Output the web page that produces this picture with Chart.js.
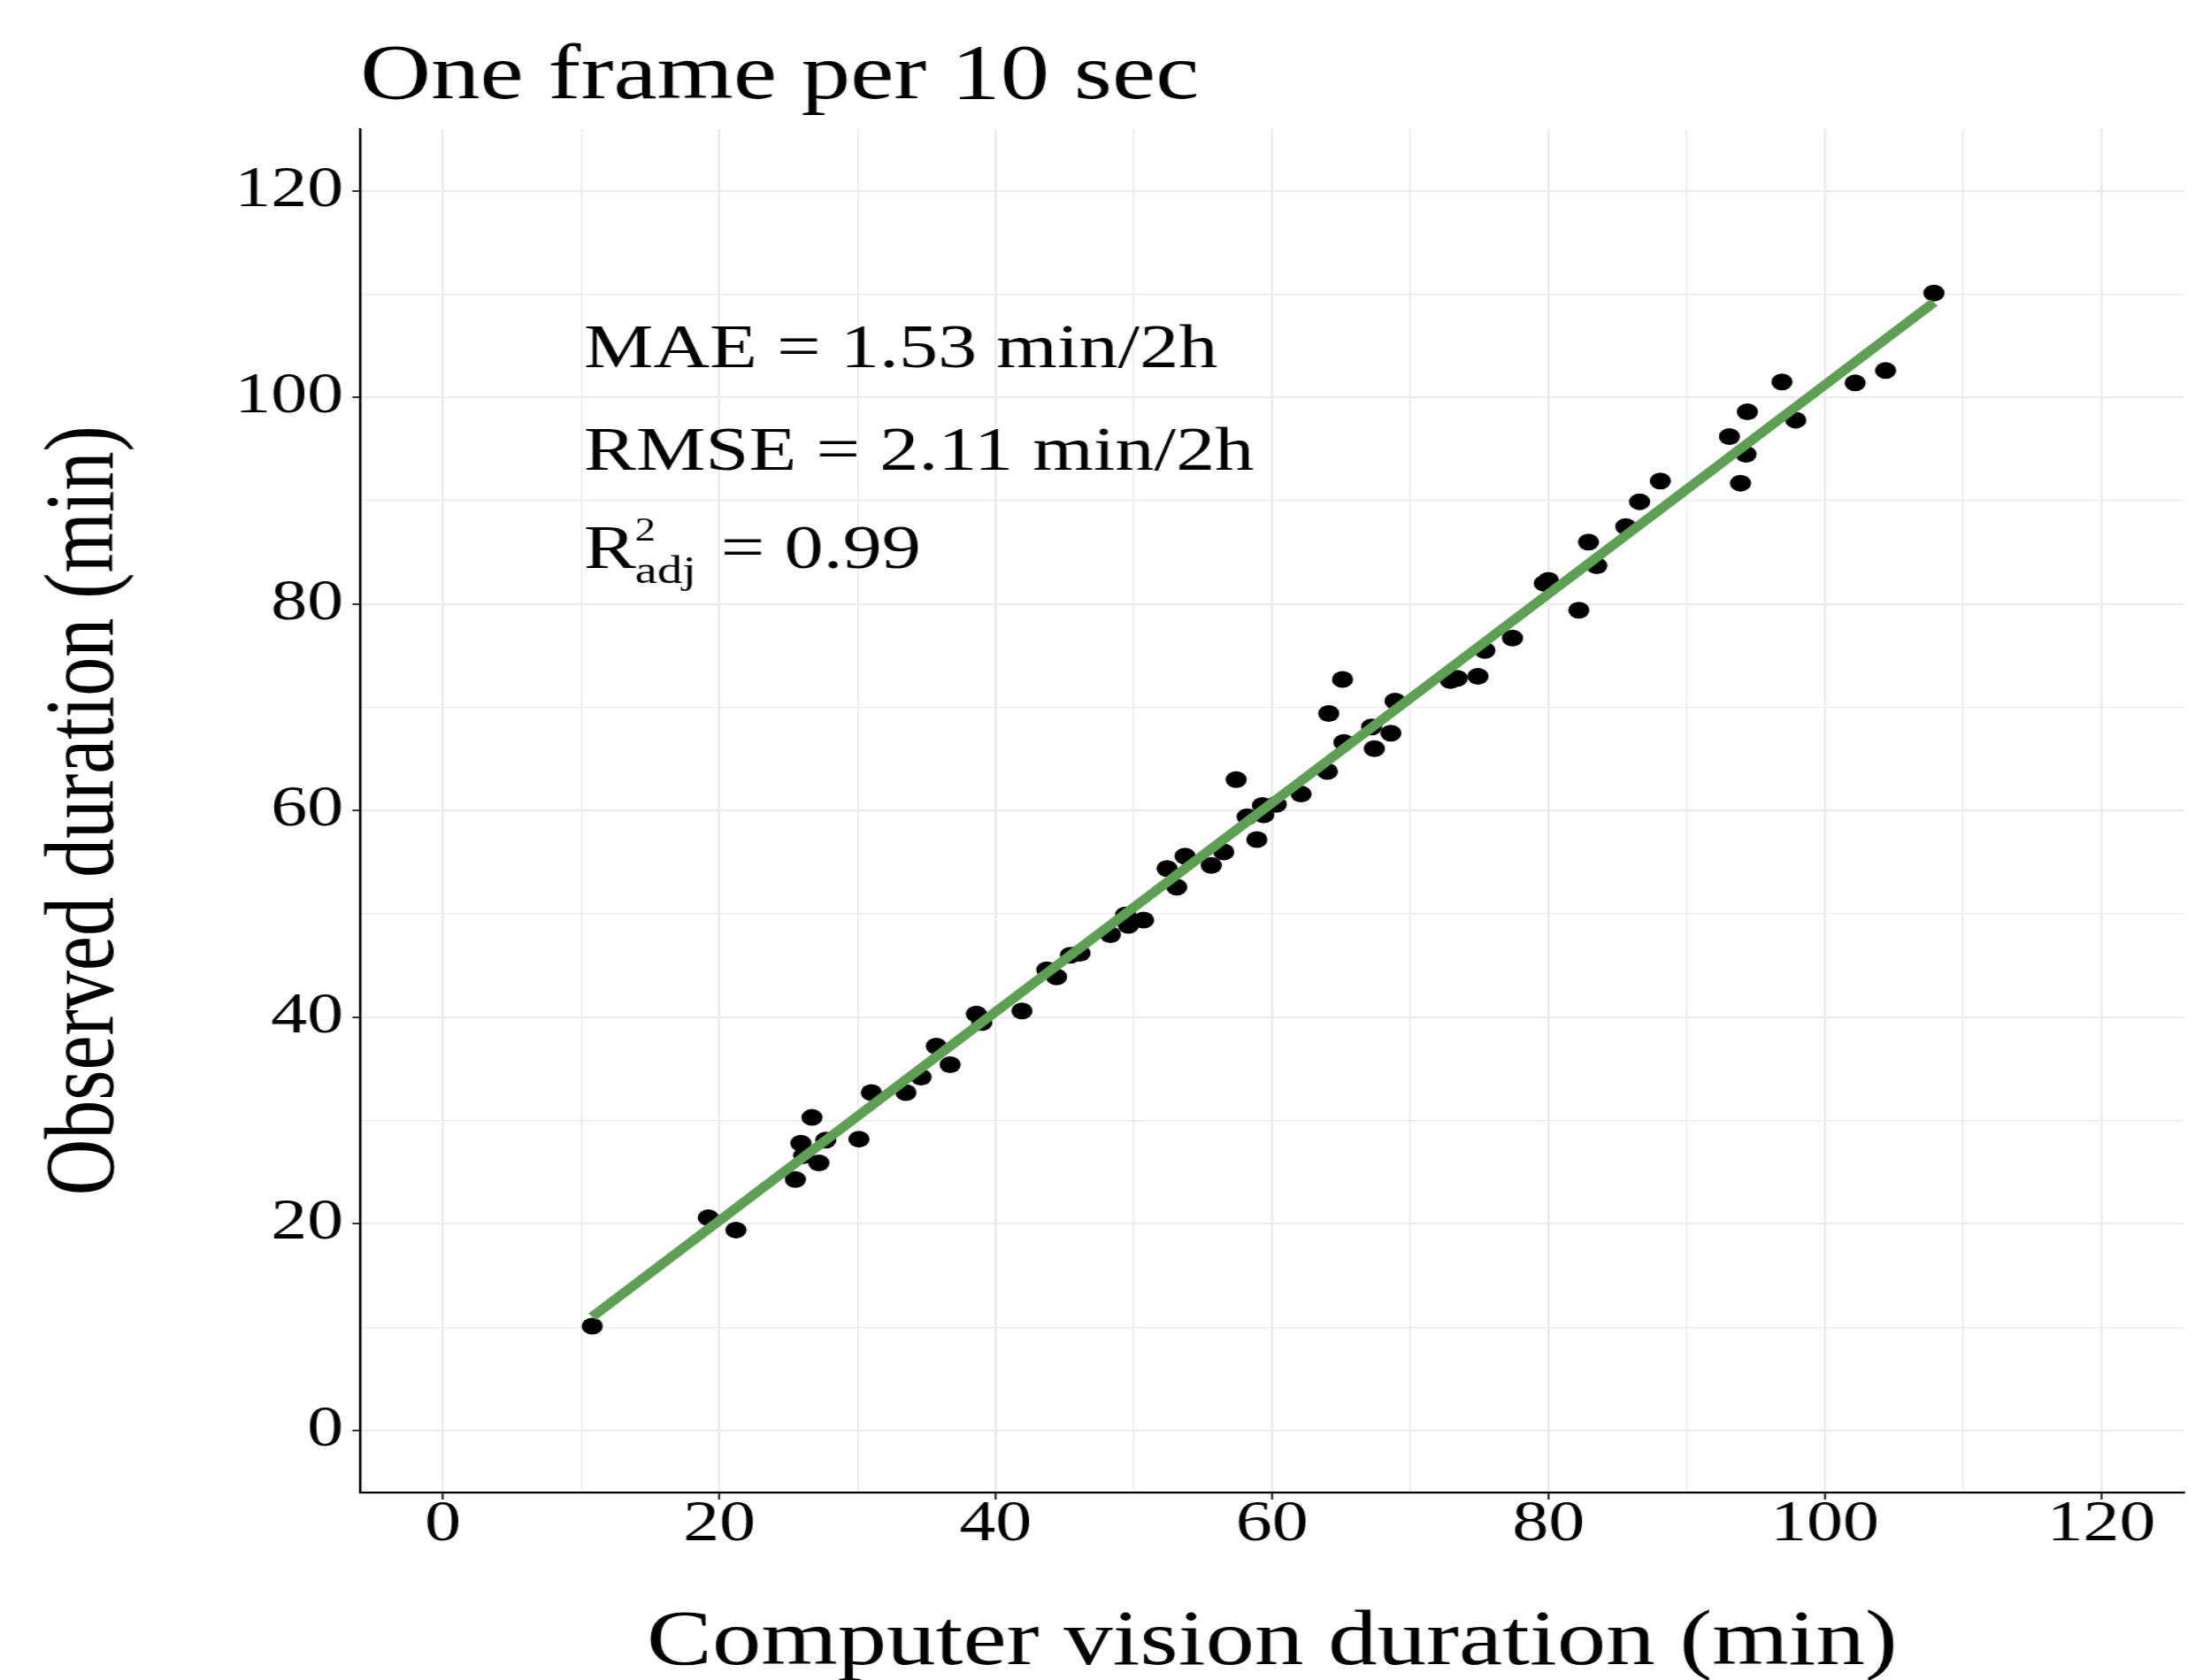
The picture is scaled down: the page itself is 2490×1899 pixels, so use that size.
<!DOCTYPE html>
<html>
<head>
<meta charset="utf-8">
<script src="https://cdn.jsdelivr.net/npm/chart.js@4.4.0/dist/chart.umd.min.js"></script>
<style>
  html, body { margin: 0; padding: 0; background: #fff; overflow: hidden; }
  /* the figure was exported stretched sideways, so draw at 1976 wide and stretch to 2490 */
  #wrap { width: 1976px; height: 1899px; transform: scaleX(1.2601); transform-origin: 0 0; }
</style>
</head>
<body>
<div id="wrap"><canvas id="chart"></canvas></div>
<script>
var cvMinutes = [10.8, 19.2, 21.2, 25.5, 25.9, 26.1, 26.7, 27.2, 27.7, 30.1, 31.0, 33.5, 34.6, 35.7, 36.7,
                 38.6, 39.0, 41.9, 43.7, 44.4, 45.4, 46.1, 48.3, 49.4, 49.6, 50.7, 52.4, 53.1, 53.7, 55.6,
                 56.5, 57.4, 58.2, 58.9, 59.3, 59.4, 60.3, 62.1, 64.0, 64.1, 65.1, 65.2, 67.2, 67.4, 68.6,
                 68.9, 72.9, 73.4, 74.9, 75.4, 77.4, 79.7, 80.0, 82.2, 82.9, 83.5, 85.6, 86.6, 88.1, 93.1,
                 93.9, 94.3, 94.4, 96.9, 97.9, 102.2, 104.4, 107.9];
var observedMinutes = [10.1, 20.6, 19.4, 24.3, 27.8, 26.6, 30.3, 25.9, 28.1, 28.2, 32.7, 32.7, 34.2, 37.2, 35.4,
                       40.3, 39.5, 40.6, 44.6, 43.9, 46.0, 46.2, 48.0, 49.9, 48.9, 49.4, 54.4, 52.6, 55.6, 54.7,
                       56.0, 63.0, 59.4, 57.2, 60.5, 59.6, 60.6, 61.6, 63.8, 69.4, 72.7, 66.6, 68.1, 66.0, 67.5,
                       70.6, 72.6, 72.8, 73.0, 75.5, 76.7, 82.0, 82.3, 79.4, 86.0, 83.7, 87.5, 89.9, 91.9, 96.2,
                       91.7, 94.5, 98.6, 101.5, 97.8, 101.4, 102.6, 110.1];

// fitted line, ends
var fitX = [10.8, 107.9];
var fitY = [11.0, 109.2];

var gridValues = [0, 10, 20, 30, 40, 50, 60, 70, 80, 90, 100, 110, 120];
var tickLabels = ['0', '20', '40', '60', '80', '100', '120'];

var statsLines = ['MAE = 1.53 min/2h', 'RMSE = 2.11 min/2h'];
var statsX = 10.2;
var statsY = [102.96, 93.0, 83.5];

var serif = '"Liberation Serif", "Times New Roman", serif';

function isMajor(v) {
  return tickLabels.indexOf(String(v)) !== -1;
}

function toPoints(xs, ys) {
  return xs.map(function (x, i) { return {x: x, y: ys[i]}; });
}

function axisOptions(tickLen) {
  return {
    type: 'linear',
    min: -6,
    max: 126,
    afterBuildTicks: function (scale) {
      scale.ticks = gridValues.map(function (v) { return {value: v}; });
    },
    border: {display: true, color: '#000', width: 2.2},
    grid: {
      color: '#ebebeb',
      lineWidth: function (c) { return c.tick && isMajor(c.tick.value) ? 2 : 1.3; },
      tickColor: function (c) { return c.tick && isMajor(c.tick.value) ? '#333' : 'rgba(0,0,0,0)'; },
      tickWidth: 2,
      tickLength: tickLen
    },
    ticks: {
      autoSkip: false,
      maxRotation: 0,
      color: '#000',
      font: {family: serif, size: 65, lineHeight: 1},
      callback: function (v) { return isMajor(v) ? String(v) : ''; }
    }
  };
}

var xAxis = axisOptions(8);
xAxis.ticks.padding = -4;
xAxis.title = {display: true, text: 'Computer vision duration (min)', color: '#000',
               font: {family: serif, size: 88, lineHeight: 1}, padding: {top: 0, bottom: -3}};
xAxis.afterFit = function (scale) { scale.height = 212; };

var yAxis = axisOptions(7);
yAxis.ticks.padding = 8;
yAxis.title = {display: true, text: 'Observed duration (min)', color: '#000',
               font: {family: serif, size: 88}, padding: {top: 25, bottom: 0}};
yAxis.afterFit = function (scale) { scale.width = 323; };

var statsText = {
  id: 'statsText',
  afterDraw: function (chart) {
    var ctx = chart.ctx;
    var x = chart.scales.x, y = chart.scales.y;
    var left = x.getPixelForValue(statsX);
    ctx.save();
    ctx.fillStyle = '#000';
    ctx.textAlign = 'left';
    ctx.textBaseline = 'alphabetic';
    ctx.font = '70px ' + serif;
    statsLines.forEach(function (t, i) {
      ctx.fillText(t, left, y.getPixelForValue(statsY[i]));
    });
    // R squared adjusted
    var base = y.getPixelForValue(statsY[2]);
    ctx.fillText('R', left, base);
    var pos = left + ctx.measureText('R').width - 1;
    ctx.font = '37px ' + serif;
    ctx.fillText('2', pos, base - 31);
    var supW = ctx.measureText('2').width;
    ctx.font = '45px ' + serif;
    ctx.fillText('adj', pos, base + 17);
    pos += Math.max(supW, ctx.measureText('adj').width) + 4;
    ctx.font = '70px ' + serif;
    ctx.fillText('= 0.99', pos + 18, base);
    ctx.restore();
  }
};

new Chart(document.getElementById('chart'), {
  type: 'scatter',
  data: {
    datasets: [
      {
        type: 'line',
        data: toPoints(fitX, fitY),
        borderColor: '#5d9f53',
        borderWidth: 10,
        borderCapStyle: 'butt',
        pointRadius: 0,
        fill: false,
        order: 0
      },
      {
        data: toPoints(cvMinutes, observedMinutes),
        backgroundColor: '#000',
        borderWidth: 0,
        pointRadius: 9.5,
        order: 1
      }
    ]
  },
  options: {
    responsive: true,
    maintainAspectRatio: false,
    animation: false,
    layout: {padding: {left: 0, right: 17, top: 0, bottom: 0}},
    scales: {x: xAxis, y: yAxis},
    plugins: {
      legend: {display: false},
      tooltip: {enabled: false},
      title: {
        display: true,
        text: 'One frame per 10 sec',
        align: 'start',
        fullSize: false,
        color: '#000',
        font: {family: serif, size: 88, weight: 'normal'},
        padding: {top: 35, bottom: 5}
      }
    }
  },
  plugins: [statsText]
});
</script>
</body>
</html>
